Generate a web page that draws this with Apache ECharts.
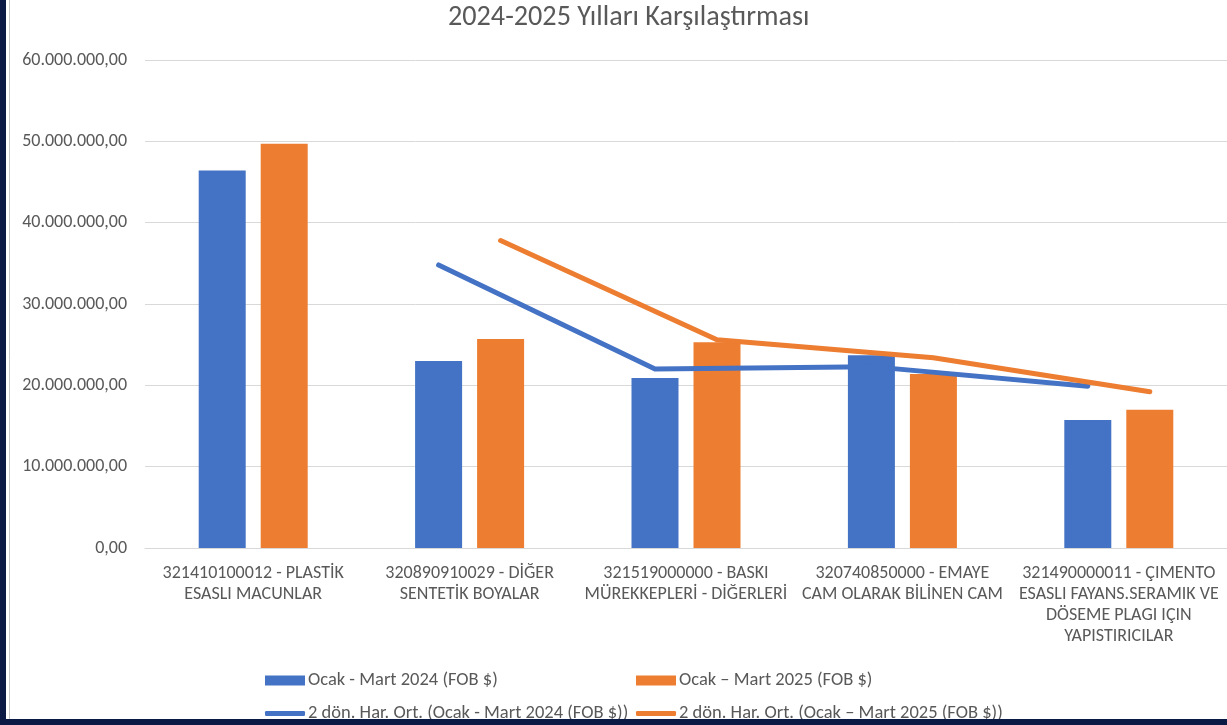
<!DOCTYPE html>
<html>
<head>
<meta charset="utf-8">
<script src="https://cdn.jsdelivr.net/npm/echarts@6/dist/echarts.min.js"></script>
<style>html,body{margin:0;padding:0;background:#fff;}#c{width:1227px;height:725px;}</style>
</head>
<body>
<div id="c"></div>
<script>
const categories = [
  "321410100012 - PLASTİK\nESASLI MACUNLAR",
  "320890910029 - DİĞER\nSENTETİK BOYALAR",
  "321519000000 - BASKI\nMÜREKKEPLERİ - DİĞERLERİ",
  "320740850000 - EMAYE\nCAM OLARAK BİLİNEN CAM",
  "321490000011 - ÇIMENTO\nESASLI FAYANS.SERAMIK VE\nDÖSEME PLAGI IÇIN\nYAPISTIRICILAR"
];
const seriesNames = [
  "Ocak - Mart 2024 (FOB $)",
  "Ocak – Mart 2025 (FOB $)",
  "2 dön. Har. Ort. (Ocak - Mart 2024 (FOB $))",
  "2 dön. Har. Ort. (Ocak – Mart 2025 (FOB $))"
];
const values2024 = [46400000, 23000000, 20900000, 23700000, 15750000];
const values2025 = [49700000, 25700000, 25300000, 21400000, 17000000];
const movAvg2024 = [null, 34800000, 22000000, 22300000, 19900000];
const movAvg2025 = [null, 37800000, 25600000, 23400000, 19200000];
const yTicks = { min: 0, max: 60000000, interval: 10000000 };

const FONT = "Carlito, 'Open Sans', sans-serif";
const TXT = '#595959';
const BLUE = '#4472C4', ORANGE = '#ED7D31';

function trFormat(v) {
  const s = Math.round(v).toString().replace(/\B(?=(\d{3})+(?!\d))/g, '.');
  return s + ',00';
}

const chart = echarts.init(document.getElementById('c'));
const gridLeft = 145, gridRight = 0;
const barWidth = 47, barGapPx = 15;
const catW = (1227 - gridLeft - gridRight) / categories.length;
const off = (barWidth + barGapPx) / 2 / catW;

function lineData(arr, sign) {
  return arr.map((v, i) => v == null ? null : [i + sign * off, v]).filter(d => d);
}

function legendAt(left, top, name, isLine) {
  return {
    left: left, top: top, data: [{ name: name, icon: isLine ? 'roundRect' : 'rect' }],
    itemWidth: 40, itemHeight: isLine ? 5 : 10, itemGap: 0,
    textStyle: { color: TXT, fontSize: 18.5, fontFamily: FONT, padding: [0, 0, 0, -2] },
    selectedMode: false
  };
}

chart.setOption({
  backgroundColor: '#fff',
  animation: false,
  title: {
    text: '2024-2025 Yılları Karşılaştırması',
    left: 443, top: -1,
    textStyle: { color: TXT, fontSize: 28.2, fontWeight: 'normal', fontFamily: FONT }
  },
  legend: [
    legendAt(260, 666, seriesNames[0], false),
    legendAt(631, 666, seriesNames[1], false),
    legendAt(260, 699, seriesNames[2], true),
    legendAt(631, 699, seriesNames[3], true)
  ],
  grid: { left: gridLeft, right: gridRight, top: 60, bottom: 177, containLabel: false },
  xAxis: [
    {
      type: 'category', data: categories,
      axisLine: { lineStyle: { color: '#d9d9d9', width: 1 } },
      axisTick: { show: false },
      axisLabel: { color: TXT, fontSize: 18, fontFamily: FONT, lineHeight: 21, margin: 15, interval: 0 }
    },
    { type: 'value', min: -0.5, max: 4.5, show: false }
  ],
  yAxis: {
    type: 'value', min: yTicks.min, max: yTicks.max, interval: yTicks.interval,
    axisLine: { show: false }, axisTick: { show: false },
    splitLine: { lineStyle: { color: '#d9d9d9', width: 1 } },
    axisLabel: { color: TXT, fontSize: 18, fontFamily: FONT, margin: 18, formatter: trFormat }
  },
  series: [
    { name: seriesNames[0], type: 'bar', data: values2024, barWidth: barWidth, barGap: (barGapPx / barWidth * 100) + '%',
      itemStyle: { color: BLUE } },
    { name: seriesNames[1], type: 'bar', data: values2025, barWidth: barWidth,
      itemStyle: { color: ORANGE } },
    { name: seriesNames[2], type: 'line', xAxisIndex: 1, data: lineData(movAvg2024, -1),
      symbol: 'none', lineStyle: { color: BLUE, width: 5, cap: 'round', join: 'miter' }, itemStyle: { color: BLUE } },
    { name: seriesNames[3], type: 'line', xAxisIndex: 1, data: lineData(movAvg2025, 1),
      symbol: 'none', lineStyle: { color: ORANGE, width: 5, cap: 'round', join: 'miter' }, itemStyle: { color: ORANGE } }
  ],
  graphic: [
    { type: 'rect', left: 0, top: 0, shape: { width: 6, height: 725 }, style: { fill: '#0b1a45' }, z: 100 },
    { type: 'rect', left: 0, top: 719, shape: { width: 1227, height: 6 }, style: { fill: '#0b1a45' }, z: 100 },
    { type: 'line', shape: { x1: 9.5, y1: 0, x2: 9.5, y2: 719 }, style: { stroke: '#c8c8c8', lineWidth: 1 }, z: 100 }
  ]
});
</script>
</body>
</html>
